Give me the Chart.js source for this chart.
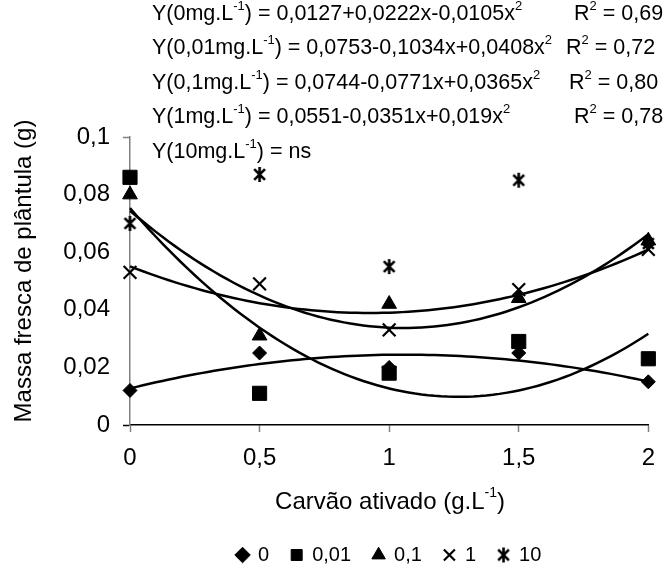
<!DOCTYPE html>
<html>
<head>
<meta charset="utf-8">
<script src="https://cdn.jsdelivr.net/npm/chart.js@4.4.0/dist/chart.umd.min.js"></script>
<style>
  html, body { margin: 0; padding: 0; background: #fff; }
  canvas { display: block; }
</style>
</head>
<body>
<canvas id="chart" width="667" height="571"></canvas>
<script>
// Activated charcoal levels (g.L-1) and tick labels
const carvaoLevels = [0, 0.5, 1, 1.5, 2];
const xTickLabels = ['0', '0,5', '1', '1,5', '2'];
const yTickLabels = ['0', '0,02', '0,04', '0,06', '0,08', '0,1'];

// Treatment names (mg.L-1) shown in the legend
const seriesNames = ['0', '0,01', '0,1', '1', '10'];

// Seedling fresh mass (g) per treatment
const massa0   = [0.012, 0.025, 0.020, 0.025, 0.015];
const massa001 = [0.086, 0.011, 0.018, 0.029, 0.023];
const massa01  = [0.080, 0.031, 0.042, 0.044, 0.064];
const massa1   = [0.053, 0.049, 0.033, 0.047, 0.061];
const massa10  = [0.070, 0.087, 0.055, 0.085, 0.063];

// Quadratic regression coefficients [a, b, c] for y = a + b x + c x^2
const coef0   = [0.0127, 0.0222, -0.0105];
const coef001 = [0.0753, -0.1034, 0.0408];
const coef01  = [0.0744, -0.0771, 0.0365];
const coef1   = [0.0551, -0.0351, 0.019];

// Equation labels: segments alternate normal text / superscript
const eqLabels = [
  ['Y(0mg.L', '-1', ') = 0,0127+0,0222x-0,0105x', '2'],
  ['Y(0,01mg.L', '-1', ') = 0,0753-0,1034x+0,0408x', '2'],
  ['Y(0,1mg.L', '-1', ') = 0,0744-0,0771x+0,0365x', '2'],
  ['Y(1mg.L', '-1', ') = 0,0551-0,0351x+0,019x', '2'],
  ['Y(10mg.L', '-1', ') = ns']
];
const r2Labels = ['0,69', '0,72', '0,80', '0,78'];

const FONT = '"Liberation Sans", Arial, Helvetica, sans-serif';

function asteriskMarker(size, lw) {
  const c = document.createElement('canvas');
  c.width = size; c.height = size;
  const g = c.getContext('2d');
  g.strokeStyle = '#000';
  g.lineWidth = lw;
  const m = size / 2, r = size / 2 - 1, d = r * 0.72;
  g.beginPath();
  g.moveTo(m, m - r); g.lineTo(m, m + r);
  g.moveTo(m - d, m - d); g.lineTo(m + d, m + d);
  g.moveTo(m + d, m - d); g.lineTo(m - d, m + d);
  g.stroke();
  return c;
}

function points(values) {
  return carvaoLevels.map((x, i) => ({ x, y: values[i] }));
}

function curve(coef) {
  const pts = [];
  for (let i = 0; i <= 80; i++) {
    const x = i * 0.025;
    pts.push({ x, y: coef[0] + coef[1] * x + coef[2] * x * x });
  }
  return pts;
}

const markerBase = { showLine: false, backgroundColor: '#000', borderColor: '#000', clip: false };
const curveBase = { showLine: true, borderColor: '#000', borderWidth: 2.5, pointRadius: 0,
  pointHoverRadius: 0, fill: false, tension: 0, clip: false };

const datasets = [
  { ...markerBase, label: seriesNames[0], data: points(massa0), pointStyle: 'rectRot', pointRadius: 7, borderWidth: 1 },
  { ...markerBase, label: seriesNames[1], data: points(massa001), pointStyle: 'rect', pointRadius: 10, borderWidth: 1 },
  { ...markerBase, label: seriesNames[2], data: points(massa01), pointStyle: 'triangle', pointRadius: 8.5, borderWidth: 1 },
  { ...markerBase, label: seriesNames[3], data: points(massa1), pointStyle: 'crossRot', pointRadius: 9, borderWidth: 2.2 },
  { ...markerBase, label: seriesNames[4], data: points(massa10), pointStyle: asteriskMarker(17, 2.6), pointRadius: 8, borderWidth: 2 },
  { ...curveBase, label: 'Y0', data: curve(coef0) },
  { ...curveBase, label: 'Y001', data: curve(coef001) },
  { ...curveBase, label: 'Y01', data: curve(coef01) },
  { ...curveBase, label: 'Y1', data: curve(coef1) }
];

function drawRich(ctx, segs, x, y, size) {
  segs.forEach((s, i) => {
    const sup = i % 2 === 1;
    ctx.font = (sup ? Math.round(size * 0.6) : size) + 'px ' + FONT;
    ctx.fillText(s, x, sup ? y - size * 0.36 : y);
    x += ctx.measureText(s).width;
  });
  return x;
}

function richWidth(ctx, segs, size) {
  let w = 0;
  segs.forEach((s, i) => {
    ctx.font = (i % 2 === 1 ? Math.round(size * 0.6) : size) + 'px ' + FONT;
    w += ctx.measureText(s).width;
  });
  return w;
}

// Axis titles and regression equations
const labelsPlugin = {
  id: 'labels',
  afterDraw(chart) {
    const ctx = chart.ctx;
    ctx.save();
    ctx.fillStyle = '#000';
    ctx.textBaseline = 'middle';
    ctx.textAlign = 'left';

    const eqSize = 21.5;
    const rowY = [14, 48, 83, 117, 152];
    const r2X = [574, 566, 569, 574];
    eqLabels.forEach((segs, i) => {
      drawRich(ctx, segs, 152, rowY[i], eqSize);
      if (i < r2Labels.length) {
        drawRich(ctx, ['R', '2', ' = ' + r2Labels[i]], r2X[i], rowY[i], eqSize);
      }
    });

    // x title
    const xt = ['Carvão ativado (g.L', '-1', ')'];
    const w = richWidth(ctx, xt, 24);
    drawRich(ctx, xt, 390 - w / 2, 502, 24);

    // y title
    ctx.translate(24, 271);
    ctx.rotate(-Math.PI / 2);
    ctx.textAlign = 'center';
    ctx.font = '24px ' + FONT;
    ctx.fillText('Massa fresca de plântula (g)', 0, 0);
    ctx.restore();
  }
};

const LEGEND_H = 52;
const BOTTOM_PAD = -4;

new Chart(document.getElementById('chart'), {
  type: 'scatter',
  data: { datasets },
  options: {
    responsive: false,
    animation: false,
    devicePixelRatio: 1,
    layout: { padding: { top: 137, right: 12, left: 0, bottom: BOTTOM_PAD } },
    plugins: {
      tooltip: { enabled: false },
      legend: {
        display: true,
        position: 'bottom',
        fullSize: false,
        labels: {
          usePointStyle: true,
          boxWidth: 11,
          boxHeight: 11,
          padding: 22,
          color: '#000',
          font: { family: FONT, size: 20 },
          filter: (item) => item.datasetIndex < 5
        }
      }
    },
    scales: {
      x: {
        type: 'linear',
        min: 0,
        max: 2,
        afterFit(scale) { scale.height = 571 - 425 - LEGEND_H - BOTTOM_PAD; },
        afterBuildTicks(scale) { scale.ticks = carvaoLevels.map(v => ({ value: v })); },
        ticks: {
          color: '#000',
          padding: 12,
          maxRotation: 0,
          font: { family: FONT, size: 24 },
          callback: (v, i) => xTickLabels[i]
        },
        grid: { drawOnChartArea: false, drawTicks: true, tickLength: 7, tickColor: '#808080', tickWidth: 1.5 },
        border: { color: '#000', width: 1.5 }
      },
      y: {
        type: 'linear',
        min: 0,
        max: 0.1,
        afterFit(scale) { scale.width = 130; },
        afterBuildTicks(scale) { scale.ticks = yTickLabels.map((t, i) => ({ value: i * 0.02 })); },
        ticks: {
          color: '#000',
          padding: 13,
          font: { family: FONT, size: 24 },
          callback: (v, i) => yTickLabels[i]
        },
        grid: {
          drawOnChartArea: false,
          drawTicks: true,
          tickLength: 7,
          tickWidth: 1.5,
          tickColor: (c) => c.index === 0 ? '#000' : (c.index === yTickLabels.length - 1 ? '#808080' : 'rgba(0,0,0,0)')
        },
        border: { color: '#808080', width: 1.5 }
      }
    }
  },
  plugins: [labelsPlugin]
});
</script>
</body>
</html>
